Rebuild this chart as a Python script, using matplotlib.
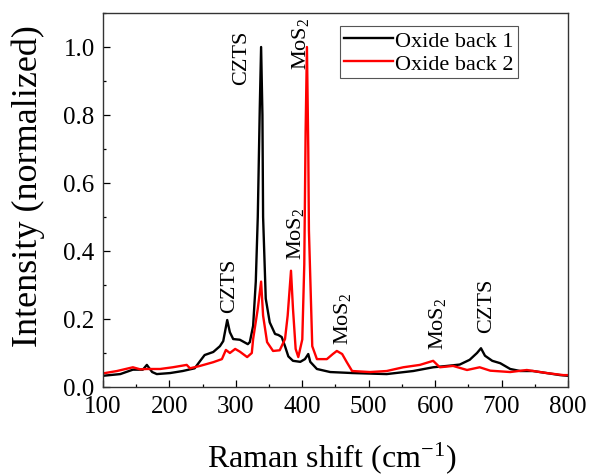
import numpy as np
import matplotlib
matplotlib.use("Agg")
import matplotlib.pyplot as plt
from matplotlib.ticker import MultipleLocator

# Oxide back 1 (black)
x1 = [100, 126, 145, 160, 166, 174, 181, 201, 220, 238, 246, 253, 266, 276, 281,
      287, 291, 296, 306, 318, 321, 326, 330, 333, 336, 338, 340, 341, 345, 351, 359, 364,
      369, 374, 379, 386, 397, 404, 409, 412, 422, 442, 476, 527, 567, 597, 618,
      637, 652, 663, 669, 675, 686, 698, 713, 728, 747, 768, 788, 800]
y1 = [0.033, 0.038, 0.051, 0.051, 0.065, 0.044, 0.038, 0.041, 0.047, 0.055, 0.076,
      0.094, 0.103, 0.120, 0.135, 0.197, 0.161, 0.141, 0.139, 0.126, 0.132, 0.180,
      0.310, 0.500, 0.820, 1.000, 0.800, 0.500, 0.260, 0.190, 0.156, 0.153, 0.147, 0.120, 0.090,
      0.077, 0.074, 0.082, 0.097, 0.074, 0.053, 0.044, 0.041, 0.038, 0.047, 0.058,
      0.062, 0.066, 0.080, 0.100, 0.114, 0.092, 0.077, 0.070, 0.053, 0.047, 0.047,
      0.041, 0.035, 0.033]

# Oxide back 2 (red)
x2 = [100, 121, 145, 156, 166, 186, 205, 226, 231, 246, 266, 279, 285, 291, 299,
      306, 317, 324, 326, 333, 338, 341, 347, 356, 366, 374, 378, 383, 386, 390,
      394, 400, 403, 405, 407, 409, 410, 415, 422, 437, 446, 452, 460, 467, 475, 502, 527,
      552, 577, 597, 607, 627, 648, 667, 683, 713, 738, 768, 793, 800]
y2 = [0.040, 0.047, 0.058, 0.052, 0.053, 0.053, 0.058, 0.065, 0.055, 0.062, 0.073,
      0.082, 0.109, 0.100, 0.112, 0.104, 0.088, 0.100, 0.141, 0.230, 0.310, 0.210,
      0.132, 0.106, 0.108, 0.141, 0.210, 0.342, 0.230, 0.112, 0.088, 0.140, 0.360,
      0.750, 1.000, 0.700, 0.460, 0.120, 0.082, 0.082, 0.097, 0.106, 0.097, 0.073, 0.047, 0.044,
      0.047, 0.058, 0.065, 0.077, 0.058, 0.062, 0.050, 0.058, 0.048, 0.044, 0.050,
      0.041, 0.035, 0.035]

labels = ["Oxide back 1", "Oxide back 2"]

# peak annotations: text, x, y (bottom of rotated text)
peak_names = ["CZTS", "CZTS", "MoS$_2$", "MoS$_2$", "MoS$_2$", "MoS$_2$", "CZTS"]
peak_x = [291, 308, 390, 397, 460, 603, 678]
peak_y = [0.22, 0.89, 0.376, 0.935, 0.126, 0.112, 0.162]

plt.rcParams['font.family'] = ['Liberation Serif', 'DejaVu Serif']
plt.rcParams['mathtext.fontset'] = 'custom'
plt.rcParams['mathtext.rm'] = 'Liberation Serif'
plt.rcParams['mathtext.it'] = 'Liberation Serif:italic'

fig = plt.figure(figsize=(5.9, 4.77), dpi=100)
ax = fig.add_axes([103/590, 1 - 388/477, (568-103)/590, (388-14)/477])

ax.plot(x1, y1, color='black', lw=1.7, label=labels[0])
ax.plot(x2, y2, color='red', lw=1.7, label=labels[1])

for name, px, py in zip(peak_names, peak_x, peak_y):
    ax.text(px, py, name, rotation=90, ha='center', va='bottom', fontsize=16)

ax.set_xlim(100, 800)
ax.set_ylim(0, 1.1)
ax.xaxis.set_major_locator(MultipleLocator(100))
ax.xaxis.set_minor_locator(MultipleLocator(50))
ax.yaxis.set_major_locator(MultipleLocator(0.2))
ax.yaxis.set_minor_locator(MultipleLocator(0.1))
ax.yaxis.set_major_formatter(plt.FormatStrFormatter('%.1f'))
ax.tick_params(which='both', direction='in', top=False, right=False, labelsize=18)
ax.tick_params(which='major', length=5, width=0.9, pad=6)
ax.tick_params(which='minor', length=2.5, width=0.9)
for s in ax.spines.values():
    s.set_linewidth(1.0)
    s.set_color('#333333')

leg = ax.legend(loc='upper right', fontsize=16,
                handlelength=2.2, borderpad=0.2, labelspacing=0.1, handletextpad=0.1,
                borderaxespad=0, fancybox=False, framealpha=1)
leg.set_bbox_to_anchor(((518-103)/465, (388-27)/374), transform=ax.transAxes)
leg.get_frame().set_edgecolor('#555555')
leg.get_frame().set_linewidth(0.8)

fig.text(28/590, 1 - 186/477, "Intensity (normalized)", rotation=90,
         ha='center', va='center', fontsize=26)
fig.text(332/590, 1 - 458/477, "Raman shift (cm$^{-1}$)", ha='center', va='center',
         fontsize=23)

fig.savefig("out.png", dpi=100)
